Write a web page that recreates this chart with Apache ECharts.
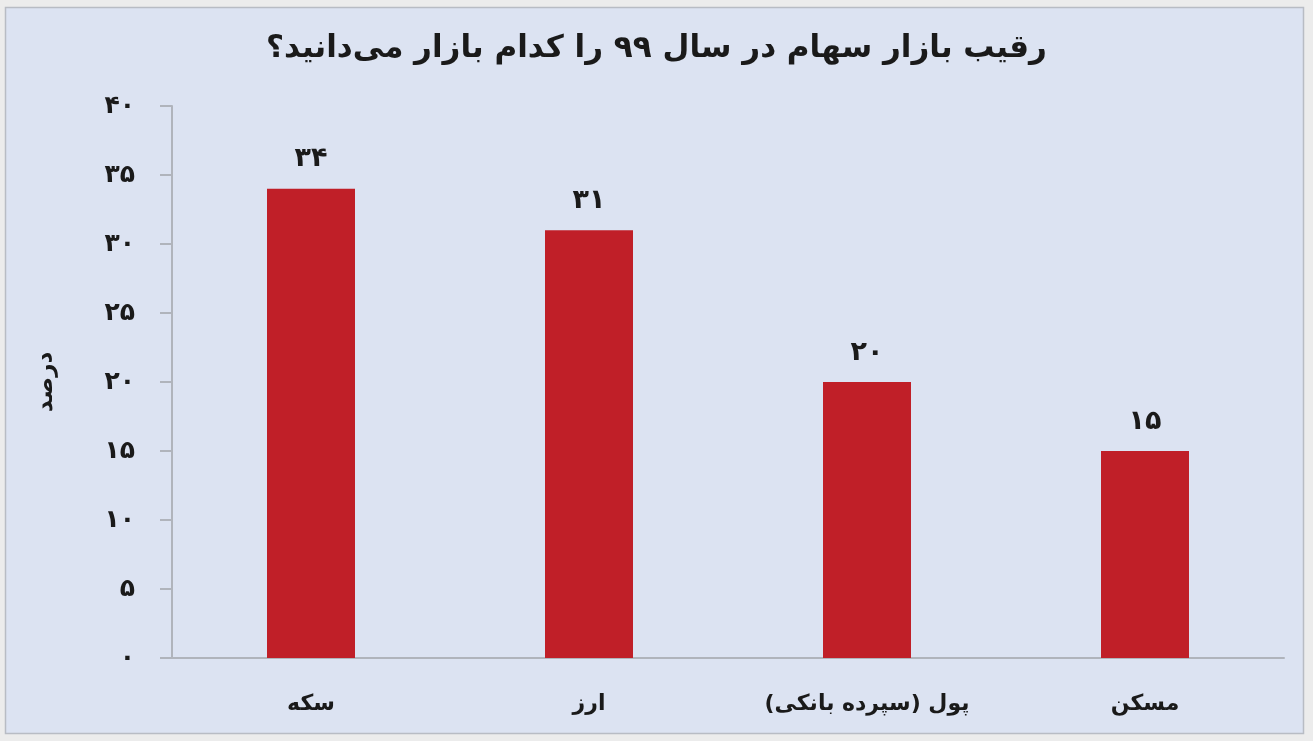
<!DOCTYPE html>
<html>
<head>
<meta charset="utf-8">
<script src="https://cdn.jsdelivr.net/npm/echarts@6/dist/echarts.min.js"></script>
<style>
html,body{margin:0;padding:0;background:#ececec;}
#chart{width:1313px;height:741px;}
</style>
</head>
<body>
<div id="chart"></div>
<script>
var titleText = 'رقیب بازار سهام در سال ۹۹ را کدام بازار می‌دانید؟';
var yAxisName = 'درصد';
var categories = ['سکه', 'ارز', 'پول (سپرده بانکی)', 'مسکن'];
var values = [34, 31, 20, 15];
var valueLabels = ['۳۴', '۳۱', '۲۰', '۱۵'];
var yTickLabels = ['۰', '۵', '۱۰', '۱۵', '۲۰', '۲۵', '۳۰', '۳۵', '۴۰'];

var FONT = 'DejaVu Sans';
var chart = echarts.init(document.getElementById('chart'), null, {renderer: 'canvas'});
chart.setOption({
  backgroundColor: '#ececec',
  animation: false,
  graphic: [{
    type: 'rect', z: -10, silent: true,
    shape: {x: 5.5, y: 7.5, width: 1298, height: 726},
    style: {fill: '#dce3f2', stroke: '#b8bcc4', lineWidth: 1.5}
  }],
  title: {
    text: titleText,
    left: 'center',
    top: 28,
    textStyle: {fontFamily: FONT, fontSize: 31, fontWeight: 'bold', color: '#1a1a1a'}
  },
  grid: {left: 172, right: 29, top: 106, bottom: 83, containLabel: false},
  xAxis: {
    type: 'category',
    data: categories,
    axisLine: {show: true, lineStyle: {color: '#b0b4bc', width: 2}},
    axisTick: {show: false},
    axisLabel: {margin: 35, fontFamily: FONT, fontSize: 22, fontWeight: 'bold', color: '#1a1a1a'},
    splitLine: {show: false}
  },
  yAxis: {
    type: 'value',
    min: 0, max: 40, interval: 5,
    name: yAxisName,
    nameLocation: 'middle',
    nameGap: 114,
    nameRotate: 90,
    nameTextStyle: {fontFamily: FONT, fontSize: 23, fontWeight: 'bold', color: '#1a1a1a'},
    axisLine: {show: true, lineStyle: {color: '#b0b4bc', width: 2}},
    axisTick: {show: true, length: 12, lineStyle: {color: '#b0b4bc', width: 2}},
    axisLabel: {
      margin: 37, fontFamily: FONT, fontSize: 25, fontWeight: 'bold', color: '#1a1a1a',
      formatter: function (v) { return yTickLabels[Math.round(v / 5)]; }
    },
    splitLine: {show: false}
  },
  series: [{
    type: 'bar',
    data: values,
    barWidth: 88,
    itemStyle: {color: '#c01f28'},
    label: {
      show: true, position: 'top', distance: 16,
      fontFamily: FONT, fontSize: 27, fontWeight: 'bold', color: '#1a1a1a',
      formatter: function (p) { return valueLabels[p.dataIndex]; }
    }
  }]
});
</script>
</body>
</html>
